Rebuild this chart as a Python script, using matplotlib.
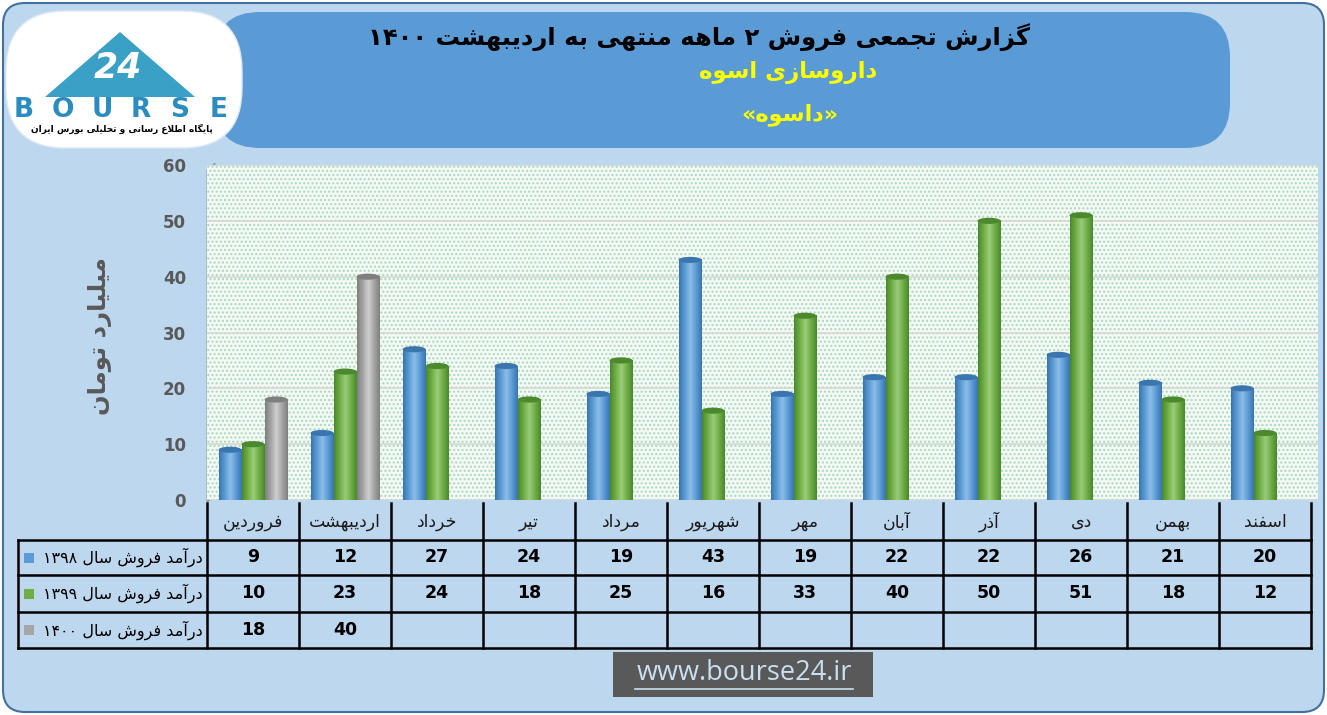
import re
import numpy as np
import matplotlib
matplotlib.use("Agg")
import matplotlib.pyplot as plt
from matplotlib.patches import FancyBboxPatch, Rectangle, Polygon, Ellipse
from matplotlib.colors import LinearSegmentedColormap
from matplotlib import transforms

plt.rcParams['font.family'] = ['DejaVu Sans']

# data
months = ['فروردین', 'اردیبهشت', 'خرداد', 'تیر', 'مرداد', 'شهریور',
          'مهر', 'آبان', 'آذر', 'دی', 'بهمن', 'اسفند']
sales_1398 = [9, 12, 27, 24, 19, 43, 19, 22, 22, 26, 21, 20]
sales_1399 = [10, 23, 24, 18, 25, 16, 33, 40, 50, 51, 18, 12]
sales_1400 = [18, 40]
series_names = ['درآمد فروش سال ۱۳۹۸', 'درآمد فروش سال ۱۳۹۹', 'درآمد فروش سال ۱۴۰۰']
colors = ['#5b9bd5', '#70ad47', '#a5a5a5']
dark = ['#3a75ad', '#4a8a2c', '#7f7f7f']
light = ['#8cbde8', '#9acc78', '#cfcfcf']

title = 'گزارش تجمعی فروش ۲ ماهه منتهی به اردیبهشت ۱۴۰۰'
subtitle1 = 'داروسازی اسوه'
subtitle2 = '«داسوه»'
ylabel = 'میلیارد تومان'

# --- tiny persian shaper (matplotlib has no bidi / joining) ---
RIGHT = {'آ': 0xFE81, 'ا': 0xFE8D, 'د': 0xFEA9, 'ذ': 0xFEAB, 'ر': 0xFEAD,
         'ز': 0xFEAF, 'ژ': 0xFB8A, 'و': 0xFEED}
DUAL = {'ب': 0xFE8F, 'پ': 0xFB56, 'ت': 0xFE95, 'ث': 0xFE99, 'ج': 0xFE9D,
        'چ': 0xFB7A, 'ح': 0xFEA1, 'خ': 0xFEA5, 'س': 0xFEB1, 'ش': 0xFEB5,
        'ص': 0xFEB9, 'ض': 0xFEBD, 'ط': 0xFEC1, 'ظ': 0xFEC5, 'ع': 0xFEC9,
        'غ': 0xFECD, 'ف': 0xFED1, 'ق': 0xFED5, 'ک': 0xFB8E, 'گ': 0xFB92,
        'ل': 0xFEDD, 'م': 0xFEE1, 'ن': 0xFEE5, 'ه': 0xFEE9, 'ی': 0xFBFC}
MIRROR = str.maketrans('«»()', '»«)(')
LTR = r'[0-9\u06F0-\u06F9A-Za-z.]'


def shape(s):
    out = []
    i = 0
    while i < len(s):
        c = s[i]
        pj = i > 0 and s[i - 1] in DUAL
        if c == 'ل' and i + 1 < len(s) and s[i + 1] in 'اآ':
            base = 0xFEFB if s[i + 1] == 'ا' else 0xFEF5
            out.append(chr(base + (1 if pj else 0)))
            i += 2
            continue
        nxt = s[i + 1] if i + 1 < len(s) else ''
        if c in DUAL:
            nj = nxt in DUAL or nxt in RIGHT
            form = 3 if (pj and nj) else 1 if pj else 2 if nj else 0
            out.append(chr(DUAL[c] + form))
        elif c in RIGHT:
            out.append(chr(RIGHT[c] + (1 if pj else 0)))
        else:
            out.append(c)
        i += 1
    return ''.join(out)


def fa(s):
    t = shape(s)
    runs = re.findall(LTR + '+|(?:(?!' + LTR + ').)+', t)
    return ''.join(r if re.match(LTR, r) else r[::-1].translate(MIRROR)
                   for r in reversed(runs))


fig = plt.figure(figsize=(13.27, 7.15), dpi=100)
fig.patch.set_facecolor('white')

# background / decoration layer in pixel coordinates
bg = fig.add_axes([0, 0, 1, 1], zorder=0)
bg.set_xlim(0, 1327)
bg.set_ylim(715, 0)
bg.axis('off')

bg.add_patch(FancyBboxPatch((3, 3), 1321, 709, boxstyle='round,pad=0,rounding_size=22',
                            fc='#bdd7ee', ec='#41719c', lw=1.5))
bg.add_patch(FancyBboxPatch((215, 12), 1015, 136, boxstyle='round,pad=0,rounding_size=45',
                            fc='#5b9bd5', ec='none'))
bg.text(699, 37, fa(title), ha='center', va='center', fontsize=17.5, fontweight='bold', color='black')
bg.text(788, 73, fa(subtitle1), ha='center', va='center', fontsize=16.5, fontweight='bold', color='#ffff00')
bg.text(790, 115, fa(subtitle2), ha='center', va='center', fontsize=16, fontweight='bold', color='#ffff00')

# logo
bg.add_patch(FancyBboxPatch((6, 11), 236, 137, boxstyle='round,pad=0,rounding_size=60',
                            fc='white', ec='#dfe9f3', lw=1))
bg.add_patch(Polygon([(45, 97), (120, 32), (195, 97)], closed=True, fc='#3aa0c6', ec='none'))
bg.text(118, 68, '24', ha='center', va='center', fontsize=25, fontweight='bold',
        fontstyle='italic', color='white')
for k, ch in enumerate('BOURSE'):
    bg.text(24 + k * 39, 110, ch, ha='center', va='center', fontsize=19, fontweight='bold',
            color='#2b8cbf')
bg.text(122, 129, fa('پایگاه اطلاع رسانی و تحلیلی بورس ایران'), ha='center', va='center',
        fontsize=6.5, fontweight='bold', color='black')

# left side wall of the 3d chart
bg.add_patch(Polygon([(207, 502), (207, 170), (215, 163), (215, 497)], closed=True,
                     fc='#b0b0b0', ec='#8c8c8c', lw=0.5, hatch='....'))

# chart
px0, px1, py0, py1 = 207, 1318, 500, 165
ax = fig.add_axes([px0 / 1327, 1 - py0 / 715, (px1 - px0) / 1327, (py0 - py1) / 715], zorder=1)
ax.set_facecolor('#f4f9f4')
ax.add_patch(Rectangle((0, 0), 1, 1, transform=ax.transAxes, fill=False,
                       hatch='....', ec='#a8d8bc', lw=0, zorder=0))
ax.set_ylim(0, 60)
ax.set_yticks(range(0, 61, 10))
ax.grid(axis='y', color='#d4d9d4', lw=1.2, zorder=0.5)
ax.set_xticks([])
for s in ax.spines.values():
    s.set_visible(False)
ax.tick_params(axis='y', length=0, pad=15, labelsize=12, labelcolor='#595959')
for lab in ax.get_yticklabels():
    lab.set_fontweight('bold')

w = 0.25
x = np.arange(len(months))
all_series = [sales_1398, sales_1399, sales_1400]
for k, vals in enumerate(all_series):
    xs = x[:len(vals)] + (k - 1) * w
    bars = ax.bar(xs, vals, width=w, color=colors[k], zorder=2)
    cmap = LinearSegmentedColormap.from_list('c%d' % k, [dark[k], colors[k], light[k], colors[k], dark[k]])
    for b in bars:
        x0, h = b.get_x(), b.get_height()
        ax.imshow(np.linspace(0, 1, 60).reshape(1, -1), cmap=cmap, aspect='auto',
                  extent=(x0, x0 + w, 0, h), zorder=2.1)
        ax.add_patch(Ellipse((x0 + w / 2, h), w, 1.1, fc=dark[k], ec='none', zorder=2.2))
        ax.add_patch(Ellipse((x0 + w / 2, 0), w, 1.1, fc=colors[k], ec='none', zorder=2.0))
ax.set_xlim(-0.5, 11.5 + (px1 - 1311) / 92)
ax.set_ylim(0, 60)

fig.text(100 / 1327, 1 - 336 / 715, fa(ylabel), rotation=90, ha='center', va='center',
         fontsize=17.5, fontweight='bold', color='#595959')

# data table under the chart: x in category units, y in pixels
tr = transforms.blended_transform_factory(ax.transData, bg.transData)
rows_y = [540, 575, 612, 648]
lw = 1.8
for j in range(len(months) + 1):
    bg.plot([j - 0.5, j - 0.5], [503, 648], color='black', lw=lw, transform=tr, clip_on=False)
x_right = bg.transData.inverted().transform(ax.transData.transform((11.5, 0)))[0]
for yy in rows_y:
    bg.plot([18, x_right], [yy, yy], color='black', lw=lw, clip_on=False)
bg.plot([18, 18], [540, 648], color='black', lw=lw)
for i, m in enumerate(months):
    bg.text(i, 522, fa(m), transform=tr, ha='center', va='center', fontsize=12.5, color='#1a1a1a')
for r, vals in enumerate(all_series):
    yc = (rows_y[r] + rows_y[r + 1]) / 2
    for i, v in enumerate(vals):
        bg.text(i, yc, str(v), transform=tr, ha='center', va='center', fontsize=12.5,
                fontweight='bold', color='black')
    bg.text(203, yc, fa(series_names[r]), ha='right', va='center', fontsize=11.5, color='black')
    bg.add_patch(Rectangle((24, yc - 5), 10, 10, fc=colors[r], ec='none'))

# website box
bg.add_patch(Rectangle((613, 652), 260, 45, fc='#595959', ec='none'))
bg.text(744, 673, 'www.bourse24.ir', ha='center', va='center', fontsize=19.5,
        family='Open Sans', color='#c9dff2')
bg.plot([635, 853], [689, 689], color='#c9dff2', lw=1.2)

fig.savefig('out.png', dpi=100)
